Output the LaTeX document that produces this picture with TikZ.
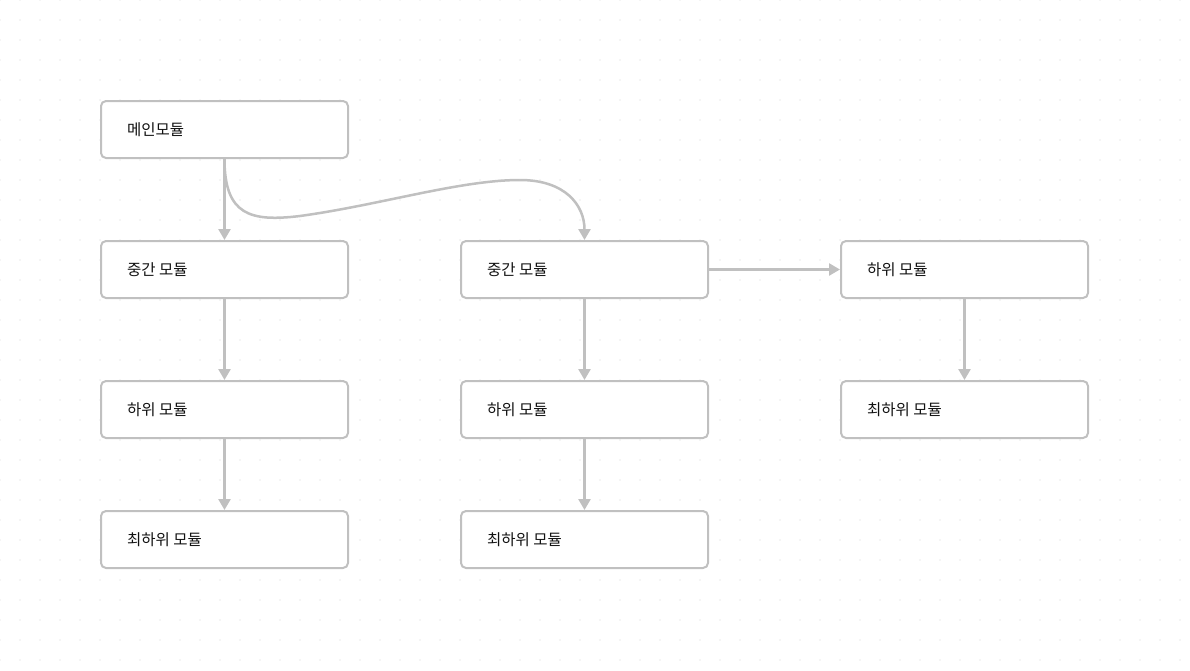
\documentclass[tikz,border=0pt]{standalone}
\usepackage{fontspec}
\newfontfamily\krfont{Noto Sans CJK KR}
\usetikzlibrary{arrows.meta}
\definecolor{edgegray}{HTML}{C0C0C0}
\definecolor{dotgray}{HTML}{D8D8D8}
\definecolor{txt}{HTML}{111111}
\begin{document}
\begin{tikzpicture}[x=1pt,y=-1pt,
  box/.style={draw=edgegray,line width=2pt,rounded corners=5pt,fill=white,
    minimum width=247pt,minimum height=57pt,inner sep=0pt},
  lbl/.style={font=\krfont\fontsize{15.5}{18}\selectfont,text=txt,anchor=west,inner sep=0pt},
  conn/.style={draw=edgegray,line width=2.5pt,-{Triangle[length=11pt,width=12pt]}}]
\useasboundingbox (0,0) rectangle (1190,670);
\fill[white] (0,0) rectangle (1190,670);
\foreach \i in {0,...,59}{\foreach \j in {0,...,33}{
  \fill[dotgray] (\i*20,\j*20) circle (0.6pt);}}
% nodes
\node[box] (main) at (224.5,129.5) {};
\node[box] (m1) at (224.5,269.5) {};
\node[box] (l1) at (224.5,409.5) {};
\node[box] (b1) at (224.5,539.5) {};
\node[box] (m2) at (584.5,269.5) {};
\node[box] (l2) at (584.5,409.5) {};
\node[box] (b2) at (584.5,539.5) {};
\node[box] (l3) at (964.5,269.5) {};
\node[box] (b3) at (964.5,409.5) {};
\node[lbl] (tmain) at (127,130) {메인모듈};
\node[lbl] (tm1) at (127,270) {중간 모듈};
\node[lbl] (tl1) at (127,410) {하위 모듈};
\node[lbl] (tb1) at (127,540) {최하위 모듈};
\node[lbl] (tm2) at (487,270) {중간 모듈};
\node[lbl] (tl2) at (487,410) {하위 모듈};
\node[lbl] (tb2) at (487,540) {최하위 모듈};
\node[lbl] (tl3) at (867,270) {하위 모듈};
\node[lbl] (tb3) at (867,410) {최하위 모듈};
% connectors
\draw[conn] (main.south) -- (m1.north);
\draw[conn] (m1.south) -- (l1.north);
\draw[conn] (l1.south) -- (b1.north);
\draw[conn] (m2.south) -- (l2.north);
\draw[conn] (l2.south) -- (b2.north);
\draw[conn] (l3.south) -- (b3.north);
\draw[conn] (m2.east) -- (l3.west);
\draw[conn] (main.south) .. controls (224.5,215) and (250,222) .. (300,216)
  .. controls (380,205) and (460,180) .. (520,180)
  .. controls (565,180) and (584.5,205) .. (m2.north);
\end{tikzpicture}
\end{document}
